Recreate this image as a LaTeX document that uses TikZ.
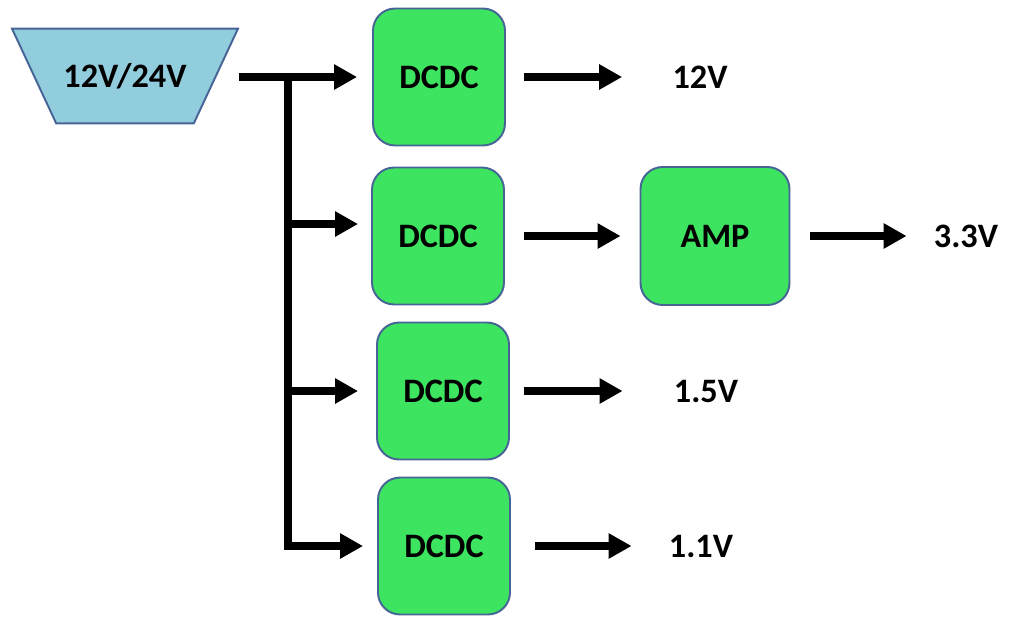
\documentclass[tikz,border=0pt]{standalone}
\usepackage{fontspec}
\setmainfont{Carlito}
\usepackage{tikz}
\usetikzlibrary{arrows.meta, positioning, shapes.geometric}
\definecolor{convgreen}{RGB}{60,228,96}
\definecolor{convedge}{RGB}{70,100,150}
\definecolor{srcblue}{RGB}{146,205,221}

\begin{document}
\begin{tikzpicture}[
  x=0.02cm, y=-0.02cm,
  conv/.style={rectangle, rounded corners=0.44cm, draw=convedge, line width=1.1pt, fill=convgreen, minimum width=2.64cm, minimum height=2.74cm, align=center, font=\bfseries\fontsize{19.5}{21}\selectfont},
  supply/.style={trapezium, trapezium angle=65, shape border rotate=180, trapezium stretches body=true, draw=convedge, fill=srcblue, line width=1.1pt, text height=13pt, text depth=0pt, inner ysep=20.45pt, minimum width=4.52cm, font=\bfseries\fontsize{19.5}{21}\selectfont},
  rail/.style={inner sep=0pt, font=\bfseries\fontsize{19.5}{21}\selectfont},
  wire/.style={-{Triangle[length=0.46cm, width=0.48cm]}, line width=0.15cm}
]
\useasboundingbox (0,0) rectangle (1012,616);

\node[supply] (src) at (125,76) {12V/24V};
\node[conv] (b1) at (439,77) {DCDC};
\node[conv] (b2) at (438,236) {DCDC};
\node[conv, minimum width=2.98cm, minimum height=2.76cm] (amp) at (715,236) {AMP};
\node[conv] (b3) at (443,391) {DCDC};
\node[conv] (b4) at (444,546) {DCDC};

\node[rail] (v12) at (700,77) {12V};
\node[rail] (v33) at (966,236) {3.3V};
\node[rail] (v15) at (706,391) {1.5V};
\node[rail] (v11) at (701,546) {1.1V};

% supply bus
\coordinate (tap) at (288,77);
\draw[wire, shorten >=0.3cm] ([xshift=0.44cm]src.east |- tap) -- (b1.west);
\draw[wire, shorten >=0.26cm] (tap) |- ([yshift=0.24cm]b2.west);
\draw[wire, shorten >=0.36cm] (tap) |- (b3.west);
\draw[wire, shorten >=0.28cm] (tap) |- (b4.west);

% outputs
\draw[wire, shorten <=0.36cm, shorten >=1.0cm] (b1) -- (v12);
\draw[wire, shorten <=0.38cm, shorten >=0.38cm] (b2) -- (amp);
\draw[wire, shorten <=0.4cm, shorten >=0.54cm] (amp) -- (v33);
\draw[wire, shorten <=0.28cm, shorten >=1.02cm] (b3) -- (v15);
\draw[wire, shorten <=0.48cm, shorten >=0.74cm] (b4) -- (v11);
\end{tikzpicture}
\end{document}
